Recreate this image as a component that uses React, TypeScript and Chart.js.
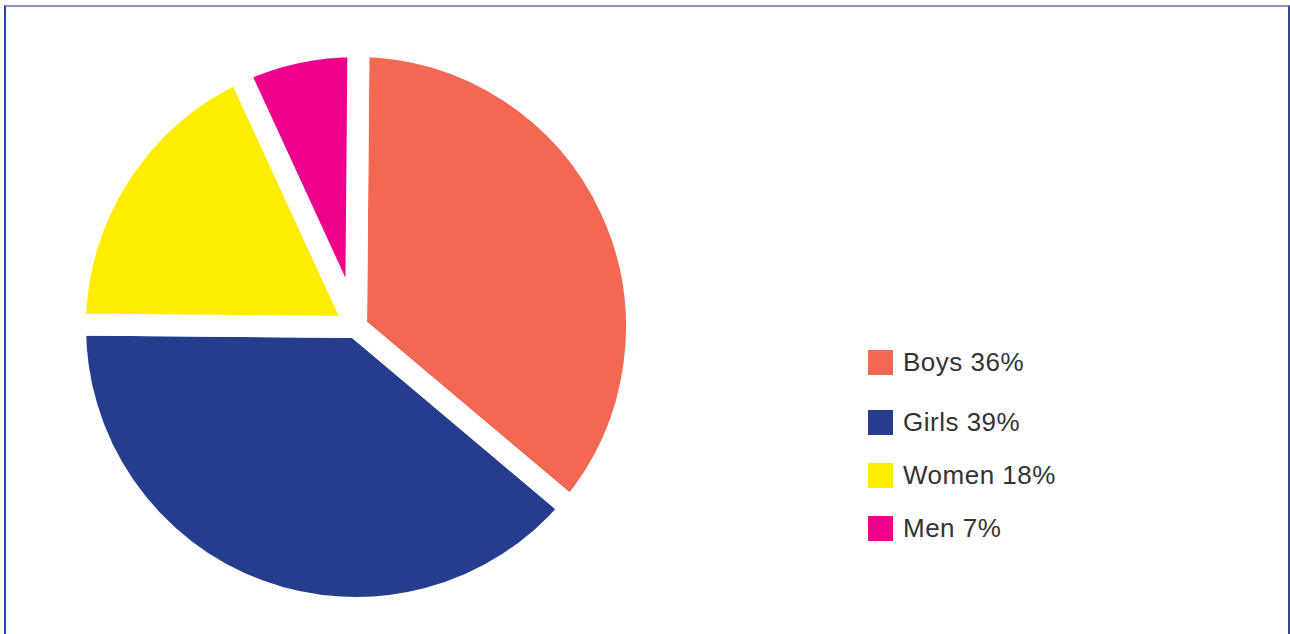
import React, { useEffect, useRef } from "react";
import { Chart, registerables } from "chart.js";

Chart.register(...registerables);

const categories = ["Boys", "Girls", "Women", "Men"];
const shares = [36, 39, 18, 7];
const colors = ["#F26852", "#253D8C", "#FFED00", "#EC008C"];

const legendTops = [350, 410, 463, 516];

export default function App() {
  const ref = useRef<HTMLCanvasElement | null>(null);

  useEffect(() => {
    if (!ref.current) return;
    const chart = new Chart(ref.current, {
      type: "pie",
      data: {
        labels: categories,
        datasets: [
          {
            data: shares,
            backgroundColor: colors,
            borderColor: "#ffffff",
            borderWidth: 22,
            borderJoinStyle: "bevel",
            hoverOffset: 0,
          },
        ],
      },
      options: {
        animation: false,
        responsive: true,
        maintainAspectRatio: false,
        rotation: 0.5,
        layout: { padding: 0 },
        plugins: {
          legend: { display: false },
          tooltip: { enabled: false },
        },
        events: [],
      },
    });
    return () => chart.destroy();
  }, []);

  return (
    <div
      style={{
        position: "fixed",
        left: 0,
        top: 0,
        width: 1290,
        height: 634,
        background: "#ffffff",
        overflow: "hidden",
      }}
    >
      <div
        style={{
          position: "absolute",
          left: 4,
          top: 5,
          width: 1286,
          height: 640,
          borderLeft: "2px solid #2a44a8",
          borderTop: "2px solid #8796cf",
          borderRight: "2px solid #34478f",
          boxSizing: "border-box",
        }}
      />
      <div style={{ position: "absolute", left: 64, top: 35, width: 584, height: 584 }}>
        <canvas ref={ref} />
      </div>
      {categories.map((c, i) => (
        <div
          key={c}
          style={{
            position: "absolute",
            left: 868,
            top: legendTops[i],
            height: 25,
            display: "flex",
            alignItems: "center",
            fontFamily: "'Liberation Sans', Arial, sans-serif",
            fontSize: 26,
            letterSpacing: 0.5,
            color: "#333333",
            whiteSpace: "nowrap",
          }}
        >
          <span style={{ width: 25, height: 25, background: colors[i], marginRight: 10, flex: "none" }} />
          <span>{`${c} ${shares[i]}%`}</span>
        </div>
      ))}
    </div>
  );
}
